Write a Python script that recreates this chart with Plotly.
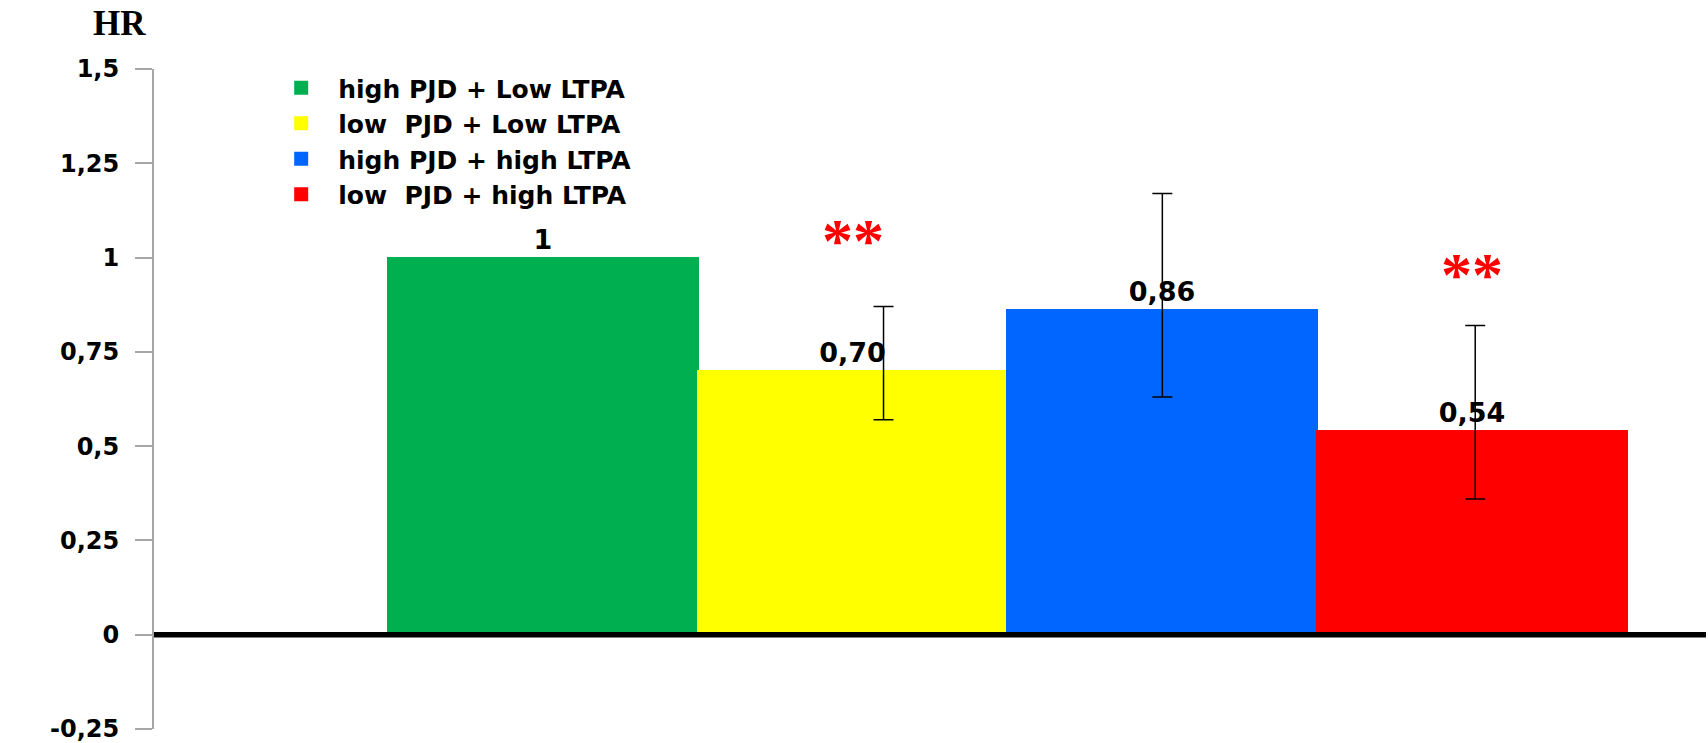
import plotly.graph_objects as go

# ---- data ----
groups = ["high PJD + Low LTPA", "low\u00a0 PJD + Low LTPA",
          "high PJD + high LTPA", "low\u00a0 PJD + high LTPA"]
hr = [1.0, 0.70, 0.86, 0.54]
hr_labels = ["1", "0,70", "0,86", "0,54"]
ci_low = [None, 0.57, 0.63, 0.36]
ci_high = [None, 0.87, 1.17, 0.82]
colors = ["#00B050", "#FFFF00", "#0066FF", "#FF0000"]
significance = ["", "**", "", "**"]
tick_vals = [-0.25, 0, 0.25, 0.5, 0.75, 1, 1.25, 1.5]
tick_text = ["-0,25", "0", "0,25", "0,5", "0,75", "1", "1,25", "1,5"]

# styling: small horizontal nudge of each error bar (fraction of a bar width)
err_nudge = [0, 0.1, 0, 0.01]
star_shift = [0, 31, 0, 15]

W, H = 1708, 743
fig = go.Figure()

for i, g in enumerate(groups):
    fig.add_trace(go.Bar(
        x=[i], y=[hr[i]], name=g, width=1,
        marker=dict(color=colors[i], line=dict(width=2, color=colors[i])),
        text=[hr_labels[i]], textposition="outside", cliponaxis=False,
        textfont=dict(family="DejaVu Sans", size=27, color="black", weight="bold"),
    ))

# confidence intervals
for i in range(len(groups)):
    if ci_low[i] is not None:
        fig.add_trace(go.Scatter(
            x=[i + err_nudge[i]], y=[hr[i]], mode="markers",
            marker=dict(size=1, color="rgba(0,0,0,0)"), showlegend=False,
            hoverinfo="skip",
            error_y=dict(type="data", symmetric=False,
                         array=[ci_high[i] - hr[i]], arrayminus=[hr[i] - ci_low[i]],
                         color="black", thickness=1.5, width=10),
        ))

# significance stars
for i, s in enumerate(significance):
    if s:
        fig.add_annotation(x=i, y=ci_high[i], xref="x", yref="y",
                           text=s, showarrow=False, yanchor="bottom",
                           yshift=star_shift[i],
                           font=dict(family="Liberation Serif", size=62, color="#FF0000",
                                     weight="bold"))

# HR axis title
fig.add_annotation(x=-0.022, y=1.069, xref="paper", yref="paper", text="<b>HR</b>",
                   showarrow=False, xanchor="center", yanchor="middle",
                   font=dict(family="Liberation Serif", size=35, color="black"))

# thick zero line above bars
fig.add_shape(type="line", xref="paper", x0=0, x1=1, yref="y", y0=0, y1=0,
              line=dict(color="black", width=5.5), layer="above")

fig.update_layout(
    width=W, height=H,
    margin=dict(l=154, r=2, t=69, b=14),
    paper_bgcolor="white", plot_bgcolor="white",
    barmode="overlay", bargap=0,
    showlegend=True,
    legend=dict(x=0.071, y=1.006, xanchor="left", yanchor="top", itemwidth=64,
                bgcolor="rgba(0,0,0,0)", traceorder="normal",
                font=dict(family="DejaVu Sans", size=25, color="black", weight="bold")),
    xaxis=dict(range=[-1.255, 3.755], showticklabels=False,
               showline=False, ticks="", showgrid=False, zeroline=False),
    yaxis=dict(range=[-0.25, 1.5], tickvals=tick_vals, ticktext=tick_text,
               showline=True, linecolor="#A6A6A6", linewidth=2,
               ticks="outside", ticklen=17, tickcolor="#A6A6A6", tickwidth=1.5,
               showgrid=False, zeroline=False, ticklabelstandoff=11,
               automargin=False, ticklabeloverflow="allow",
               tickfont=dict(family="DejaVu Sans", size=24, color="black", weight="bold")),
)

fig.write_html("out.html", config={"displayModeBar": False},
               post_script="document.body.style.margin='0';")
